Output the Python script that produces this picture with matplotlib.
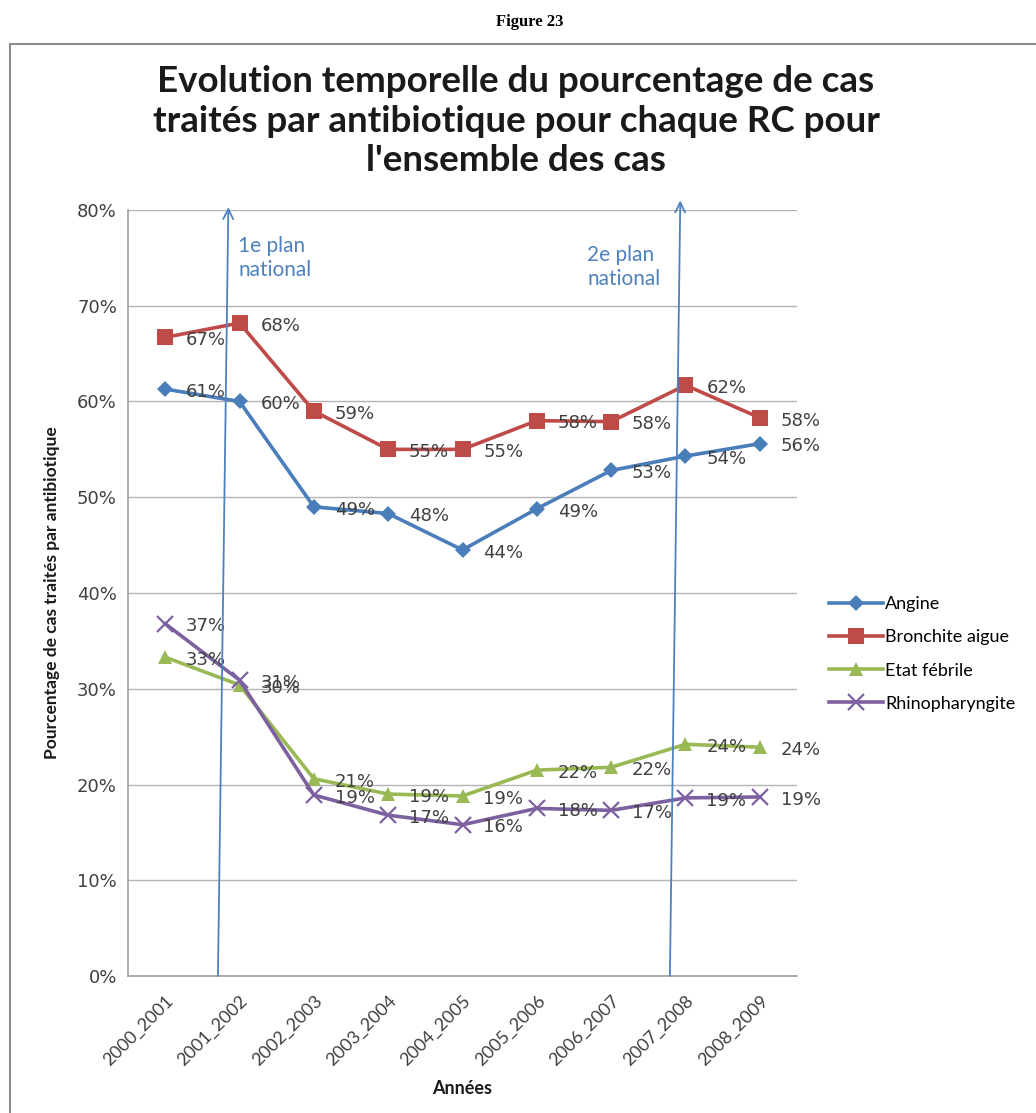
import matplotlib
matplotlib.use("Agg")
import matplotlib.pyplot as plt
from matplotlib.patches import Rectangle
import matplotlib.transforms as mtransforms

years = ["2000_2001", "2001_2002", "2002_2003", "2003_2004", "2004_2005",
         "2005_2006", "2006_2007", "2007_2008", "2008_2009"]
angine = [61.3, 60.0, 49.0, 48.3, 44.5, 48.8, 52.8, 54.3, 55.6]
bronchite = [66.7, 68.2, 59.0, 55.0, 55.0, 58.0, 57.9, 61.7, 58.3]
etat_febrile = [33.3, 30.4, 20.6, 19.0, 18.8, 21.5, 21.8, 24.2, 23.9]
rhino = [36.8, 30.9, 18.9, 16.8, 15.8, 17.5, 17.3, 18.6, 18.7]
series_names = ["Angine", "Bronchite aigue", "Etat fébrile", "Rhinopharyngite"]
yticks = [0, 10, 20, 30, 40, 50, 60, 70, 80]

W, H = 1036, 1113
fig = plt.figure(figsize=(W / 100, H / 100), dpi=100)
fig.patch.set_facecolor("white")

# chart frame
fig.add_artist(Rectangle((10 / W, -0.05), 1.1, 1 - 44 / H + 0.05, transform=fig.transFigure,
                         fill=False, edgecolor="#8c8c8c", linewidth=1.5))
fig.text(530 / W, 1 - 22 / H, "Figure 23", ha="center", va="center",
         fontsize=12, fontweight="bold", family="Liberation Serif")
fig.text(516 / W, 1 - 121 / H,
         "Evolution temporelle du pourcentage de cas\ntraités par antibiotique pour chaque RC pour\nl'ensemble des cas",
         ha="center", va="center", fontsize=26.5, fontweight="bold", family="Lato",
         linespacing=1.25, color="#1a1a1a")

ax = fig.add_axes([128 / W, 1 - 976 / H, (797 - 128) / W, (976 - 210) / H])
x = list(range(len(years)))
ax.set_xlim(-0.5, len(years) - 0.5)
ax.set_ylim(0, 80)
ax.set_yticks(yticks)
ax.set_yticklabels([f"{v}%" for v in yticks], fontsize=13, color="#404040")
ax.set_xticks(x)
ax.set_xticklabels(years, rotation=45, ha="right", rotation_mode="anchor",
                   fontsize=13, color="#404040", family="Lato")
shift = mtransforms.ScaledTranslation(8 / 100, 0, fig.dpi_scale_trans)
for lbl in ax.get_xticklabels():
    lbl.set_transform(lbl.get_transform() + shift)
ax.tick_params(axis="y", length=0, pad=8)
ax.tick_params(axis="x", length=0, pad=12)
ax.grid(axis="y", color="#b3b3b3", linewidth=1)
ax.set_axisbelow(True)
for s in ["top", "right"]:
    ax.spines[s].set_visible(False)
for s in ["left", "bottom"]:
    ax.spines[s].set_color("#a0a0a0")
    ax.spines[s].set_linewidth(1.2)

colors = ["#4a7ebb", "#be4b48", "#98b954", "#7d60a0"]
markers = ["D", "s", "^", "x"]
msizes = [8, 11, 10, 11]
data = [angine, bronchite, etat_febrile, rhino]
for vals, name, c, m, ms in zip(data, series_names, colors, markers, msizes):
    ax.plot(x, vals, color=c, linewidth=2.6, marker=m, markersize=ms,
            markeredgewidth=1.6 if m == "x" else 0, label=name, zorder=3, clip_on=False)
    for xi, v in zip(x, vals):
        ax.annotate(f"{round(v):.0f}%", (xi, v), xytext=(15, -2), textcoords="offset points",
                    ha="left", va="center", fontsize=13, color="#404040", zorder=4)

# plan national arrows
for (x0, x1, ytop, txt, tx, ty) in [(0.71, 0.85, 80.3, "1e plan\nnational", 0.98, 75.0),
                                     (6.79, 6.93, 81.0, "2e plan\nnational", 5.68, 74.0)]:
    ax.annotate("", xy=(x1, ytop), xytext=(x0, 0), xycoords="data",
                arrowprops=dict(arrowstyle="->", color="#4f81bd", lw=1.3,
                                mutation_scale=18, shrinkA=0, shrinkB=0),
                annotation_clip=False, zorder=5)
    ax.text(tx, ty, txt, color="#4f81bd", fontsize=15, family="Lato",
            ha="left", va="center", linespacing=1.25)

ax.set_xlabel("Années", fontsize=13, fontweight="bold", family="Lato", color="#1a1a1a",
              labelpad=8)
ax.set_ylabel("Pourcentage de cas traités par antibiotique", fontsize=12.5, fontweight="bold",
              family="Lato", color="#1a1a1a", labelpad=12)

ax.legend(loc="center left", bbox_to_anchor=(822 / W, 1 - 654 / H), bbox_transform=fig.transFigure,
          frameon=False, prop={"family": "Lato", "size": 13},
          labelspacing=0.95, handlelength=3.0, handletextpad=0.1, borderaxespad=0)

fig.savefig("out.png", dpi=100, facecolor="white")
